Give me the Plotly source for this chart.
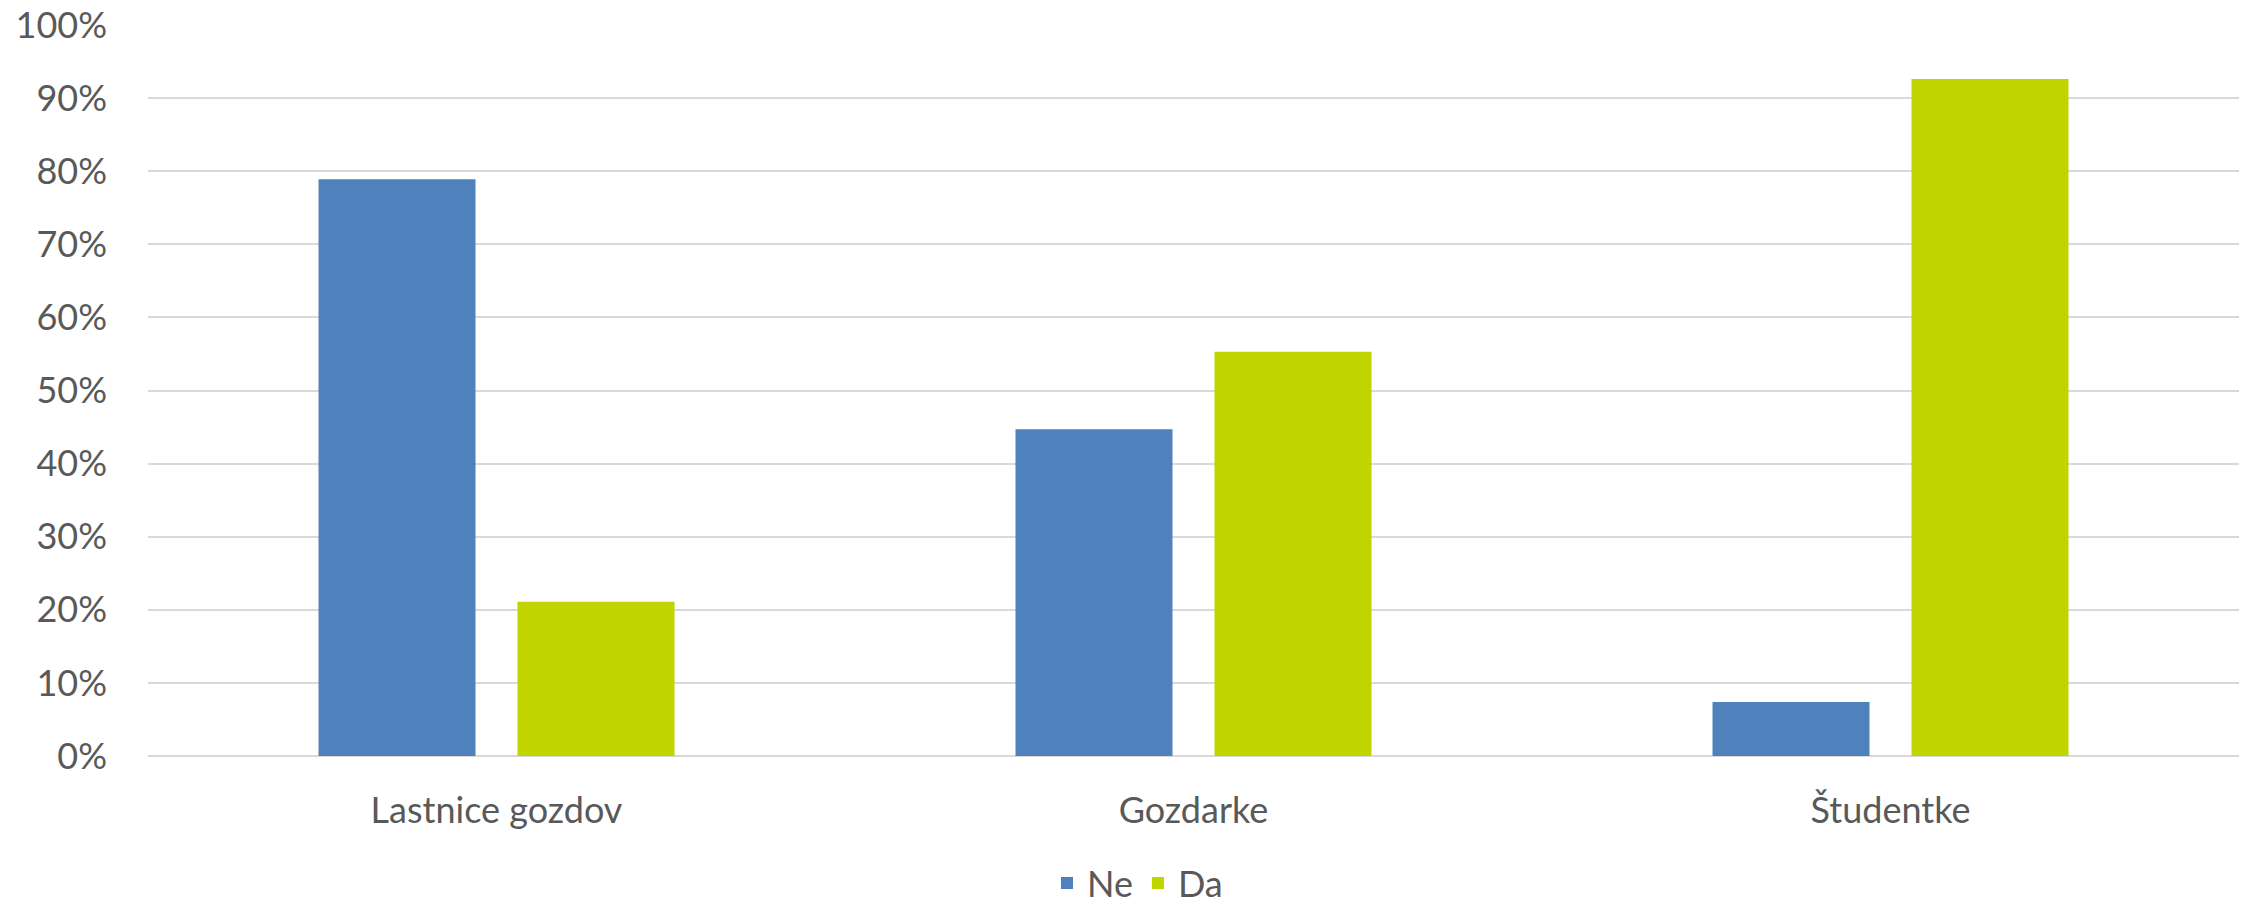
import plotly.graph_objects as go

categories = ["Lastnice gozdov", "Gozdarke", "Študentke"]
ne_values = [78.9, 44.7, 7.4]
da_values = [21.1, 55.3, 92.6]
series_names = ["Ne", "Da"]
y_ticks = list(range(0, 101, 10))
y_tick_labels = [f"{v}%" for v in y_ticks]

FONT = "Lato, 'Open Sans', sans-serif"
TEXT = "#595959"

fig = go.Figure()
fig.add_trace(go.Bar(x=categories, y=ne_values, name=series_names[0],
                     marker=dict(color="#4F81BD", line=dict(width=0))))
fig.add_trace(go.Bar(x=categories, y=da_values, name=series_names[1],
                     marker=dict(color="#C0D400", line=dict(width=0))))

fig.update_layout(
    width=2248, height=904,
    margin=dict(l=148, r=9, t=25, b=148),
    paper_bgcolor="white", plot_bgcolor="white",
    barmode="group", bargap=0.429, bargroupgap=0.211,
    font=dict(family=FONT, size=36, color=TEXT),
    showlegend=True,
    legend=dict(orientation="h", xref="container", yref="container",
                x=0.506, xanchor="center", y=0.023, yanchor="middle",
                font=dict(size=36, color=TEXT), itemwidth=30,
                traceorder="normal"),
    xaxis=dict(showgrid=False, showline=False, ticks="", automargin=False,
               tickfont=dict(size=36, color=TEXT), ticklabelstandoff=30),
    yaxis=dict(range=[0, 100], tickvals=y_ticks, ticktext=y_tick_labels,
               showgrid=True, gridcolor="#D9D9D9", gridwidth=2,
               zeroline=True, zerolinecolor="#D9D9D9", zerolinewidth=2,
               showline=False, ticks="", ticklabelstandoff=40, automargin=False,
               tickfont=dict(size=36, color=TEXT)),
)

fig.write_html("out.html", config={"displayModeBar": False},
               post_script="document.body.style.margin='0';document.body.style.overflow='hidden';")
